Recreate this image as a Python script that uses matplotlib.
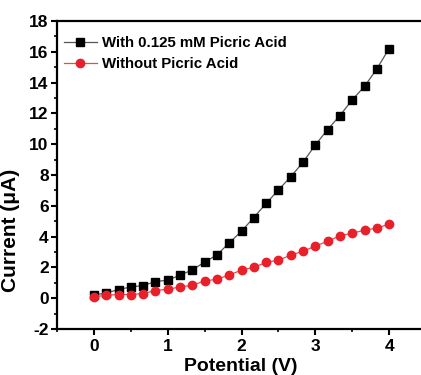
import numpy as np
import matplotlib.pyplot as plt
from matplotlib.ticker import MultipleLocator

plt.rcParams['font.family'] = ['Liberation Sans', 'DejaVu Sans']
plt.rcParams['font.weight'] = 'bold'
plt.rcParams['axes.unicode_minus'] = False

# potential (V), 25 points from 0 to 4
potential = np.linspace(0, 4, 25)

# current with picric acid (uA)
with_pa = [0.20, 0.34, 0.56, 0.73, 0.82, 1.08, 1.17, 1.49, 1.84, 2.34, 2.81, 3.59, 4.35,
           5.24, 6.15, 7.03, 7.88, 8.83, 9.95, 10.95, 11.86, 12.88, 13.75, 14.89, 16.21]

# current without picric acid (uA)
without_pa = [0.09, 0.19, 0.24, 0.24, 0.30, 0.50, 0.58, 0.73, 0.84, 1.12, 1.23, 1.51, 1.82,
              2.01, 2.32, 2.47, 2.79, 3.05, 3.38, 3.70, 4.05, 4.22, 4.42, 4.55, 4.81]

fig = plt.figure(figsize=(4.21, 3.75), dpi=100)
# right spine falls just outside the image, as in the original
ax = fig.add_axes([57 / 421, 46 / 375, 369 / 421, 308 / 375])

ax.plot(potential, with_pa, color='#555555', lw=0.9, marker='s', ms=5.2,
        mfc='black', mec='black', label='With 0.125 mM Picric Acid')
ax.plot(potential, without_pa, color='#f04848', lw=0.9, marker='o', ms=6,
        mfc='#e8202a', mec='#e8202a', label='Without Picric Acid')

ax.set_xlim(-0.5, 4.5)
ax.set_ylim(-2, 18)
ax.xaxis.set_major_locator(MultipleLocator(1))
ax.xaxis.set_minor_locator(MultipleLocator(0.5))
ax.yaxis.set_major_locator(MultipleLocator(2))
ax.yaxis.set_minor_locator(MultipleLocator(1))

for s in ax.spines.values():
    s.set_linewidth(1.6)
ax.tick_params(which='major', direction='out', length=4, width=1.5, labelsize=12.5, pad=2)
ax.tick_params(which='minor', direction='out', length=2.5, width=1.2)
ax.tick_params(axis='x', pad=3.5)

ax.set_xlabel('Potential (V)', fontsize=14, fontweight='bold')
ax.xaxis.set_label_coords(0.497, -0.093)
ax.set_ylabel('Current (\u03bcA)', fontsize=15, fontweight='bold')
ax.yaxis.set_label_coords(-0.1, 0.32)

ax.legend(loc='upper left', bbox_to_anchor=(-0.022, 1.0), frameon=False,
          handlelength=2.2, handletextpad=0.35, borderaxespad=0.6, labelspacing=0.5,
          prop={'weight': 'bold', 'size': 10.8})

fig.savefig('out.png', dpi=100)
